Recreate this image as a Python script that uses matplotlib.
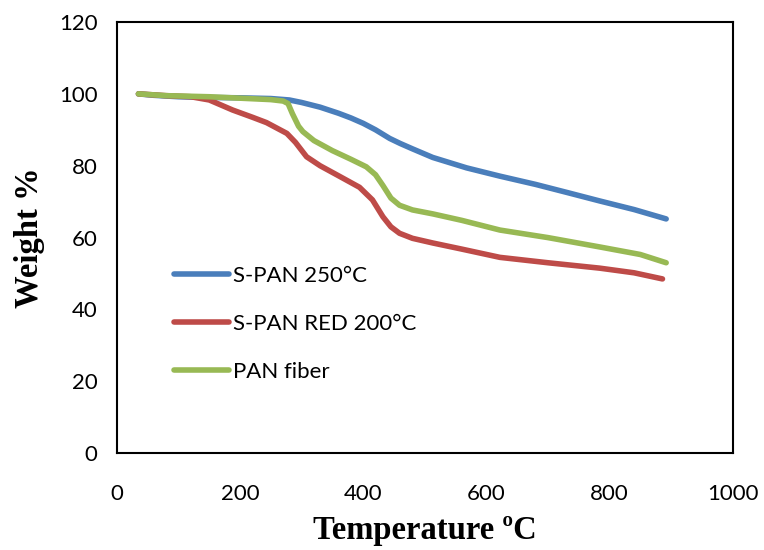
import matplotlib
matplotlib.use('Agg')
import matplotlib.pyplot as plt

# S-PAN 250°C
t_blue = [35, 60, 100, 150, 200, 250, 280, 300, 330, 360, 380, 400, 420, 443, 460,
          480, 513, 568, 622, 680, 730, 784, 840, 892]
w_blue = [100, 99.6, 99.2, 99.0, 98.9, 98.7, 98.3, 97.6, 96.3, 94.6, 93.3, 91.8, 90.0,
          87.6, 86.2, 84.7, 82.3, 79.4, 77.1, 74.8, 72.6, 70.2, 67.8, 65.2]

# S-PAN RED 200°C
t_red = [35, 80, 120, 150, 188, 220, 243, 276, 290, 308, 330, 360, 394, 415, 432, 445,
         459, 480, 513, 560, 622, 700, 784, 840, 886]
w_red = [100, 99.5, 99.2, 98.3, 95.5, 93.5, 92.0, 89.0, 86.5, 82.5, 80.0, 77.2, 74.0,
         70.5, 65.8, 63.0, 61.2, 59.8, 58.5, 56.8, 54.5, 53.0, 51.5, 50.2, 48.5]

# PAN fiber
t_green = [35, 80, 150, 200, 250, 270, 278, 285, 295, 302, 320, 350, 380, 405, 420,
           432, 445, 459, 480, 513, 560, 622, 700, 784, 850, 892]
w_green = [100, 99.5, 99.2, 98.8, 98.4, 98.0, 97.3, 94.5, 91.0, 89.5, 87.0, 84.2, 81.8,
           79.7, 77.5, 74.5, 71.0, 69.0, 67.7, 66.6, 64.8, 62.1, 60.0, 57.4, 55.3, 53.0]

fig = plt.figure(figsize=(7.64, 5.5), dpi=100)
ax = fig.add_axes([0.153, 0.176, 0.806, 0.784])

lw = 4.0
ax.plot(t_blue, w_blue, color='#4A7EBB', lw=lw, solid_capstyle='round', label='S-PAN 250°C')
ax.plot(t_red, w_red, color='#BE4B48', lw=lw, solid_capstyle='round', label='S-PAN RED 200°C')
ax.plot(t_green, w_green, color='#98B954', lw=lw, solid_capstyle='round', label='PAN fiber')

ax.set_xlim(0, 1000)
ax.set_ylim(0, 120)
ax.set_xticks(range(0, 1001, 200))
ax.set_yticks(range(0, 121, 20))
ax.tick_params(length=0, labelsize=16)
ax.tick_params(axis='x', pad=22)
ax.tick_params(axis='y', pad=14)
for lab in ax.get_xticklabels() + ax.get_yticklabels():
    lab.set_fontfamily('Lato')
for s in ax.spines.values():
    s.set_linewidth(1.5)

ax.set_xlabel('Temperature ºC', fontfamily='Liberation Serif', fontweight='bold',
              fontsize=23.5, labelpad=8)
ax.set_ylabel('Weight %', fontfamily='Liberation Serif', fontweight='bold',
              fontsize=23.5, labelpad=10)

leg = ax.legend(loc='upper left', bbox_to_anchor=(0.06, 0.48), frameon=False,
                prop={'family': 'Lato', 'size': 16}, handlelength=2.5,
                handletextpad=0.15, labelspacing=1.25)

fig.savefig('out.png', dpi=100)
